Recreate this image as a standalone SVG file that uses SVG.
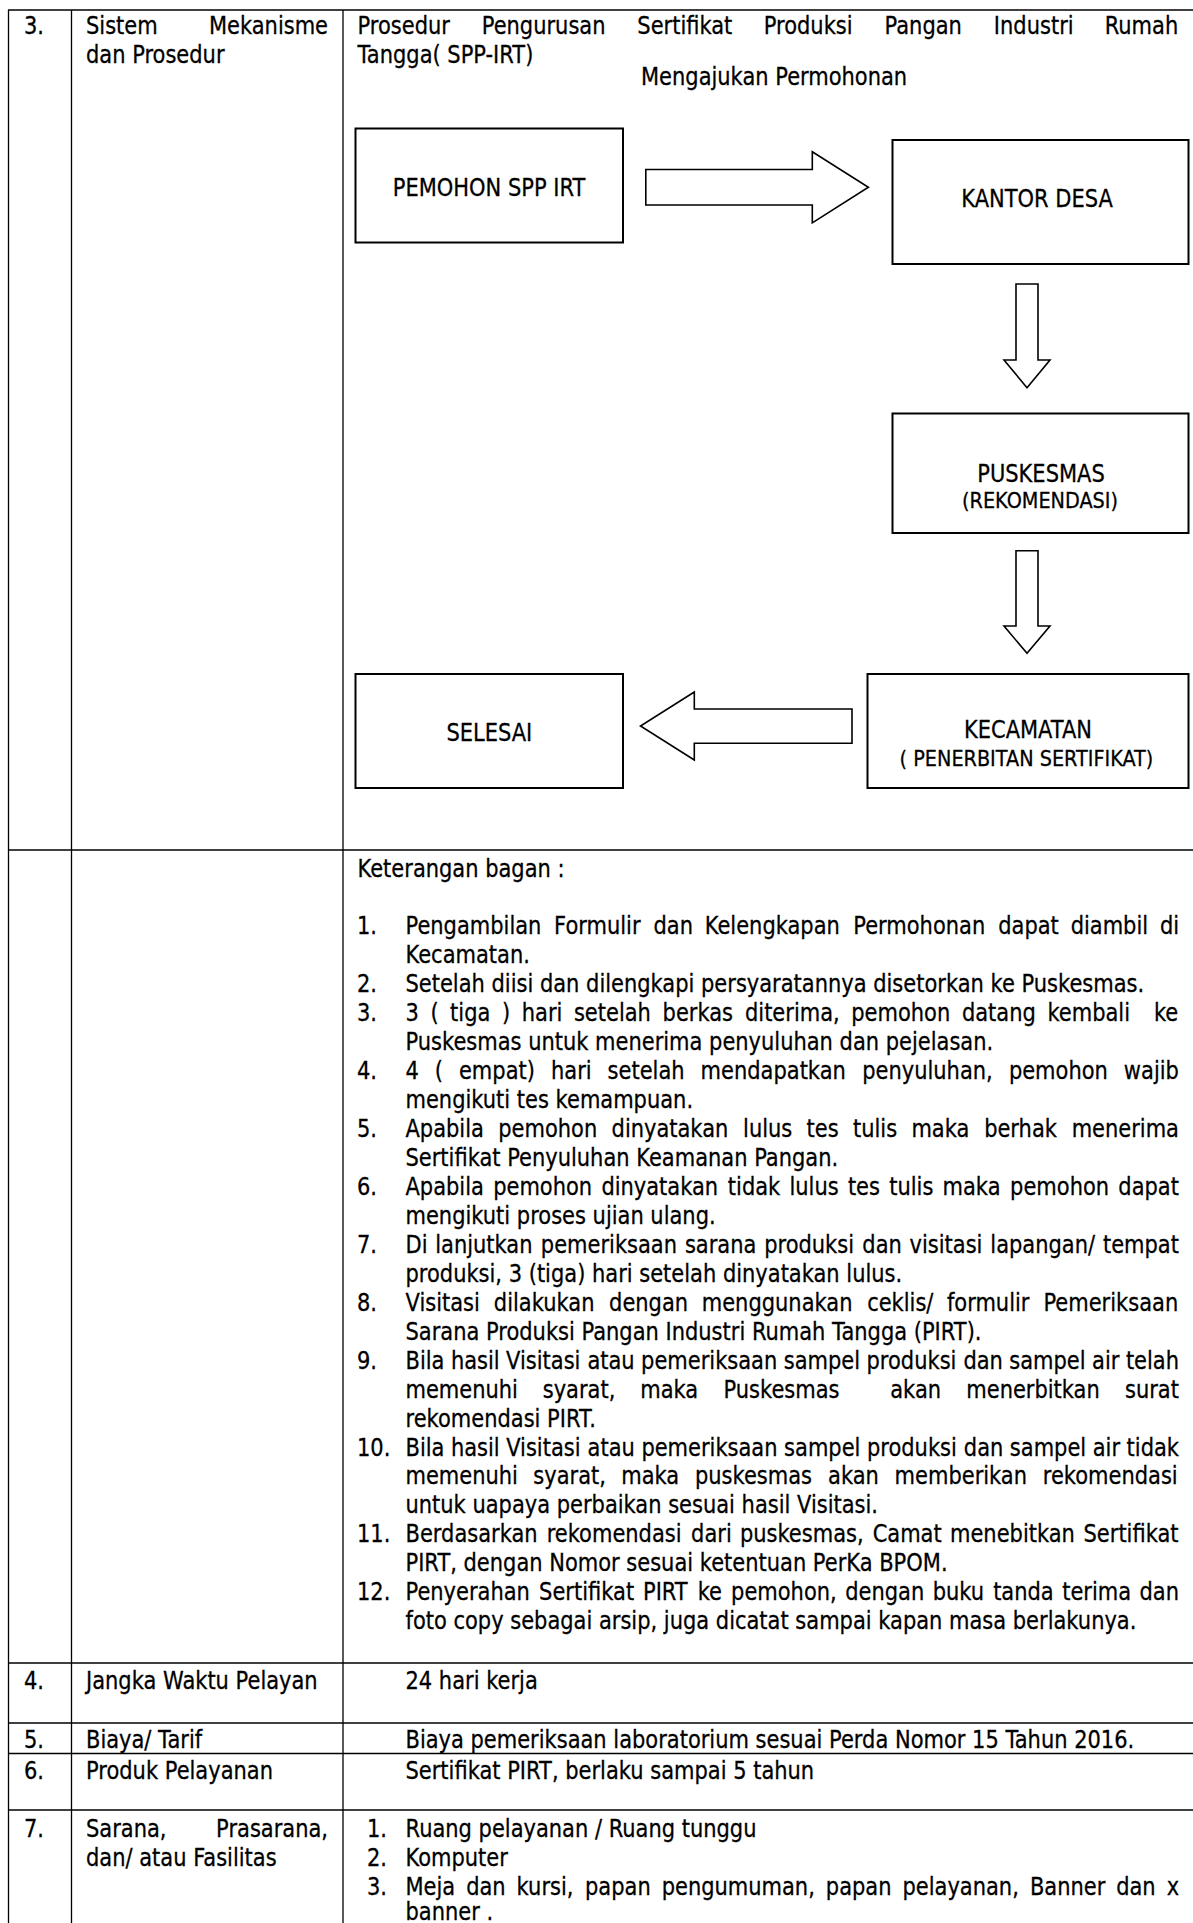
<svg xmlns="http://www.w3.org/2000/svg" width="1193" height="1923" viewBox="0 0 1193 1923">
<style>
.t{font-family:'DejaVu Sans','Liberation Sans',sans-serif;font-size:24px;fill:#000;stroke:#000;stroke-width:0.3px}
.s{font-size:22px}
.m{text-anchor:middle}
.e{text-anchor:end}
.ln{stroke:#000;stroke-width:1.3;fill:none}
.box{fill:#fff;stroke:#000;stroke-width:2}
.arr{fill:#fff;stroke:#000;stroke-width:1.6;stroke-linejoin:miter}
</style>
<rect width="1193" height="1923" fill="#fff"/>
<g id="table-lines">
<line class="ln" x1="8.5" y1="10" x2="8.5" y2="1923"/>
<line class="ln" x1="71.5" y1="10" x2="71.5" y2="1923"/>
<line class="ln" x1="343" y1="10" x2="343" y2="1923"/>
<line class="ln" x1="8" y1="10" x2="1193" y2="10"/>
<line class="ln" x1="8" y1="850" x2="1193" y2="850"/>
<line class="ln" x1="8" y1="1663" x2="1193" y2="1663"/>
<line class="ln" x1="8" y1="1723" x2="1193" y2="1723"/>
<line class="ln" x1="8" y1="1753.5" x2="1193" y2="1753.5"/>
<line class="ln" x1="8" y1="1810" x2="1193" y2="1810"/>
</g>
<g id="row3-head">
<text class="t" transform="matrix(.875 0 0 1 24 34)">3.</text>
<text class="t" transform="matrix(.875 0 0 1 86 34)">Sistem</text>
<text class="t e" transform="matrix(.875 0 0 1 328 34)">Mekanisme</text>
<text class="t" transform="matrix(.875 0 0 1 86 63)">dan Prosedur</text>
<text class="t" transform="matrix(.875 0 0 1 357.5 34)"><tspan x="0">Prosedur</tspan><tspan x="142">Pengurusan</tspan><tspan x="319.8">Sertifikat</tspan><tspan x="464.3">Produksi</tspan><tspan x="602.3">Pangan</tspan><tspan x="727.3">Industri</tspan><tspan x="853.9">Rumah</tspan></text>
<text class="t" transform="matrix(.875 0 0 1 357.5 63)">Tangga( SPP-IRT)</text>
<text class="t" transform="matrix(.875 0 0 1 641 85)">Mengajukan Permohonan</text>
</g>
<g id="connectors">
<polygon class="arr" points="645.8,169.5 812.3,169.5 812.3,151.7 868.4,187.3 812.3,222.9 812.3,205 645.8,205"/>
<polygon class="arr" points="1016,284 1038,284 1038,360 1050,360 1027,387.7 1004,360 1016,360"/>
<polygon class="arr" points="1016,550.7 1038,550.7 1038,626 1050,626 1027,653.3 1004,626 1016,626"/>
<polygon class="arr" points="852,709 694.3,709 694.3,692 640.5,726 694.3,760 694.3,743.3 852,743.3"/>
</g>
<g id="node-pemohon">
<rect class="box" x="355.5" y="128.5" width="267.5" height="114"/>
<text class="t m" transform="matrix(.875 0 0 1 489 196)">PEMOHON SPP IRT</text>
</g>
<g id="node-kantor-desa">
<rect class="box" x="892.5" y="140" width="296" height="124"/>
<text class="t m" transform="matrix(.875 0 0 1 1037 207)">KANTOR DESA</text>
</g>
<g id="node-puskesmas">
<rect class="box" x="892.5" y="413.5" width="296" height="119.5"/>
<text class="t m" transform="matrix(.875 0 0 1 1041 481.5)">PUSKESMAS</text>
<text class="t s m" transform="matrix(.875 0 0 1 1040 508)">(REKOMENDASI)</text>
</g>
<g id="node-kecamatan">
<rect class="box" x="867.5" y="674" width="321" height="114"/>
<text class="t m" transform="matrix(.875 0 0 1 1028 738)">KECAMATAN</text>
<text class="t s m" transform="matrix(.875 0 0 1 1026.5 766)">( PENERBITAN SERTIFIKAT)</text>
</g>
<g id="node-selesai">
<rect class="box" x="355.5" y="674" width="267.5" height="114"/>
<text class="t m" transform="matrix(.875 0 0 1 489.3 741)">SELESAI</text>
</g>
<g id="keterangan">
<text class="t" transform="matrix(.875 0 0 1 357.5 877)">Keterangan bagan :</text>
<text class="t" transform="matrix(.875 0 0 1 357 934)">1.</text>
<text class="t" transform="matrix(.875 0 0 1 405.5 934)"><tspan x="0">Pengambilan</tspan><tspan x="169.8">Formulir</tspan><tspan x="283.4">dan</tspan><tspan x="342">Kelengkapan</tspan><tspan x="511.7">Permohonan</tspan><tspan x="677.4">dapat</tspan><tspan x="760.2">diambil</tspan><tspan x="862.2">di</tspan></text>
<text class="t" transform="matrix(.875 0 0 1 405.5 963)">Kecamatan.</text>
<text class="t" transform="matrix(.875 0 0 1 357 991.9)">2.</text>
<text class="t" transform="matrix(.875 0 0 1 405.5 991.9)">Setelah diisi dan dilengkapi persyaratannya disetorkan ke Puskesmas.</text>
<text class="t" transform="matrix(.875 0 0 1 357 1020.9)">3.</text>
<text class="t" transform="matrix(.875 0 0 1 405.5 1020.9)"><tspan x="0">3</tspan><tspan x="28.5">(</tspan><tspan x="51">tiga</tspan><tspan x="110.3">)</tspan><tspan x="132.9">hari</tspan><tspan x="192.5">setelah</tspan><tspan x="293.8">berkas</tspan><tspan x="388">diterima,</tspan><tspan x="509.5">pemohon</tspan><tspan x="635.9">datang</tspan><tspan x="733.6">kembali</tspan><tspan x="855.4">ke</tspan></text>
<text class="t" transform="matrix(.875 0 0 1 405.5 1049.9)">Puskesmas untuk menerima penyuluhan dan pejelasan.</text>
<text class="t" transform="matrix(.875 0 0 1 357 1078.9)">4.</text>
<text class="t" transform="matrix(.875 0 0 1 405.5 1078.9)"><tspan x="0">4</tspan><tspan x="33.5">(</tspan><tspan x="61.1">empat)</tspan><tspan x="166.3">hari</tspan><tspan x="231">setelah</tspan><tspan x="337.3">mendapatkan</tspan><tspan x="522">penyuluhan,</tspan><tspan x="689.6">pemohon</tspan><tspan x="821">wajib</tspan></text>
<text class="t" transform="matrix(.875 0 0 1 405.5 1107.8)">mengikuti tes kemampuan.</text>
<text class="t" transform="matrix(.875 0 0 1 357 1136.8)">5.</text>
<text class="t" transform="matrix(.875 0 0 1 405.5 1136.8)"><tspan x="0">Apabila</tspan><tspan x="106">pemohon</tspan><tspan x="235.5">dinyatakan</tspan><tspan x="385.8">lulus</tspan><tspan x="458.4">tes</tspan><tspan x="511.4">tulis</tspan><tspan x="578.2">maka</tspan><tspan x="661.3">berhak</tspan><tspan x="761.3">menerima</tspan></text>
<text class="t" transform="matrix(.875 0 0 1 405.5 1165.8)">Sertifikat Penyuluhan Keamanan Pangan.</text>
<text class="t" transform="matrix(.875 0 0 1 357 1194.7)">6.</text>
<text class="t" transform="matrix(.875 0 0 1 405.5 1194.7)"><tspan x="0">Apabila</tspan><tspan x="100.2">pemohon</tspan><tspan x="223.9">dinyatakan</tspan><tspan x="368.4">tidak</tspan><tspan x="438.8">lulus</tspan><tspan x="505.6">tes</tspan><tspan x="552.8">tulis</tspan><tspan x="613.8">maka</tspan><tspan x="691">pemohon</tspan><tspan x="814.7">dapat</tspan></text>
<text class="t" transform="matrix(.875 0 0 1 405.5 1223.7)">mengikuti proses ujian ulang.</text>
<text class="t" transform="matrix(.875 0 0 1 357 1252.7)">7.</text>
<text class="t" transform="matrix(.875 0 0 1 405.5 1252.7)"><tspan x="0">Di</tspan><tspan x="34">lanjutkan</tspan><tspan x="154.7">pemeriksaan</tspan><tspan x="319.3">sarana</tspan><tspan x="409.9">produksi</tspan><tspan x="522.1">dan</tspan><tspan x="576.1">visitasi</tspan><tspan x="668.4">lapangan/</tspan><tspan x="797.1">tempat</tspan></text>
<text class="t" transform="matrix(.875 0 0 1 405.5 1281.6)">produksi, 3 (tiga) hari setelah dinyatakan lulus.</text>
<text class="t" transform="matrix(.875 0 0 1 357 1310.6)">8.</text>
<text class="t" transform="matrix(.875 0 0 1 405.5 1310.6)"><tspan x="0">Visitasi</tspan><tspan x="101">dilakukan</tspan><tspan x="232.7">dengan</tspan><tspan x="338.6">menggunakan</tspan><tspan x="527.6">ceklis/</tspan><tspan x="618.8">formulir</tspan><tspan x="729.1">Pemeriksaan</tspan></text>
<text class="t" transform="matrix(.875 0 0 1 405.5 1339.6)">Sarana Produksi Pangan Industri Rumah Tangga (PIRT).</text>
<text class="t" transform="matrix(.875 0 0 1 357 1368.6)">9.</text>
<text class="t" transform="matrix(.875 0 0 1 405.5 1368.6)"><tspan x="0">Bila</tspan><tspan x="51.9">hasil</tspan><tspan x="115">Visitasi</tspan><tspan x="207.9">atau</tspan><tspan x="269.3">pemeriksaan</tspan><tspan x="432.3">sampel</tspan><tspan x="526.9">produksi</tspan><tspan x="637.6">dan</tspan><tspan x="690.1">sampel</tspan><tspan x="784.7">air</tspan><tspan x="823.3">telah</tspan></text>
<text class="t" transform="matrix(.875 0 0 1 405.5 1397.5)"><tspan x="0">memenuhi</tspan><tspan x="156.9">syarat,</tspan><tspan x="268.3">maka</tspan><tspan x="363.4">Puskesmas</tspan><tspan x="554">akan</tspan><tspan x="640.9">menerbitkan</tspan><tspan x="822.3">surat</tspan></text>
<text class="t" transform="matrix(.875 0 0 1 405.5 1426.5)">rekomendasi PIRT.</text>
<text class="t" transform="matrix(.875 0 0 1 357 1455.5)">10.</text>
<text class="t" transform="matrix(.875 0 0 1 405.5 1455.5)"><tspan x="0">Bila</tspan><tspan x="51.9">hasil</tspan><tspan x="115.1">Visitasi</tspan><tspan x="208.1">atau</tspan><tspan x="269.6">pemeriksaan</tspan><tspan x="432.7">sampel</tspan><tspan x="527.4">produksi</tspan><tspan x="638.1">dan</tspan><tspan x="690.7">sampel</tspan><tspan x="785.4">air</tspan><tspan x="824.1">tidak</tspan></text>
<text class="t" transform="matrix(.875 0 0 1 405.5 1484.4)"><tspan x="0">memenuhi</tspan><tspan x="146.1">syarat,</tspan><tspan x="246.6">maka</tspan><tspan x="330.8">puskesmas</tspan><tspan x="483">akan</tspan><tspan x="559">memberikan</tspan><tspan x="728.3">rekomendasi</tspan></text>
<text class="t" transform="matrix(.875 0 0 1 405.5 1513.4)">untuk uapaya perbaikan sesuai hasil Visitasi.</text>
<text class="t" transform="matrix(.875 0 0 1 357 1542.4)">11.</text>
<text class="t" transform="matrix(.875 0 0 1 405.5 1542.4)"><tspan x="0">Berdasarkan</tspan><tspan x="161.3">rekomendasi</tspan><tspan x="326.4">dari</tspan><tspan x="382.2">puskesmas,</tspan><tspan x="533.9">Camat</tspan><tspan x="622.3">menebitkan</tspan><tspan x="774.9">Sertifikat</tspan></text>
<text class="t" transform="matrix(.875 0 0 1 405.5 1571.3)">PIRT, dengan Nomor sesuai ketentuan PerKa BPOM.</text>
<text class="t" transform="matrix(.875 0 0 1 357 1600.3)">12.</text>
<text class="t" transform="matrix(.875 0 0 1 405.5 1600.3)"><tspan x="0">Penyerahan</tspan><tspan x="152.7">Sertifikat</tspan><tspan x="271.4">PIRT</tspan><tspan x="333.9">ke</tspan><tspan x="372.1">pemohon,</tspan><tspan x="502.5">dengan</tspan><tspan x="602.5">buku</tspan><tspan x="671.6">tanda</tspan><tspan x="750.5">terima</tspan><tspan x="838.9">dan</tspan></text>
<text class="t" transform="matrix(.875 0 0 1 405.5 1629.3)">foto copy sebagai arsip, juga dicatat sampai kapan masa berlakunya.</text>
</g>
<g id="row4">
<text class="t" transform="matrix(.875 0 0 1 24 1689)">4.</text>
<text class="t" transform="matrix(.875 0 0 1 86 1689)">Jangka Waktu Pelayan</text>
<text class="t" transform="matrix(.875 0 0 1 405.5 1689)">24 hari kerja</text>
</g>
<g id="row5">
<text class="t" transform="matrix(.875 0 0 1 24 1748)">5.</text>
<text class="t" transform="matrix(.875 0 0 1 86 1748)">Biaya/ Tarif</text>
<text class="t" transform="matrix(.875 0 0 1 405.5 1748)">Biaya pemeriksaan laboratorium sesuai Perda Nomor 15 Tahun 2016.</text>
</g>
<g id="row6">
<text class="t" transform="matrix(.875 0 0 1 24 1779)">6.</text>
<text class="t" transform="matrix(.875 0 0 1 86 1779)">Produk Pelayanan</text>
<text class="t" transform="matrix(.875 0 0 1 405.5 1779)">Sertifikat PIRT, berlaku sampai 5 tahun</text>
</g>
<g id="row7">
<text class="t" transform="matrix(.875 0 0 1 24 1837)">7.</text>
<text class="t" transform="matrix(.875 0 0 1 86 1837)">Sarana,</text>
<text class="t e" transform="matrix(.875 0 0 1 328 1837)">Prasarana,</text>
<text class="t" transform="matrix(.875 0 0 1 86 1866)">dan/ atau Fasilitas</text>
<text class="t" transform="matrix(.875 0 0 1 367 1837)">1.</text>
<text class="t" transform="matrix(.875 0 0 1 405.5 1837)">Ruang pelayanan / Ruang tunggu</text>
<text class="t" transform="matrix(.875 0 0 1 367 1866)">2.</text>
<text class="t" transform="matrix(.875 0 0 1 405.5 1866)">Komputer</text>
<text class="t" transform="matrix(.875 0 0 1 367 1895)">3.</text>
<text class="t" transform="matrix(.875 0 0 1 405.5 1895)"><tspan x="0">Meja</tspan><tspan x="69.3">dan</tspan><tspan x="127">kursi,</tspan><tspan x="205.2">papan</tspan><tspan x="292.8">pengumuman,</tspan><tspan x="480.4">papan</tspan><tspan x="568">pelayanan,</tspan><tspan x="713.6">Banner</tspan><tspan x="812.2">dan</tspan><tspan x="869.9">x</tspan></text>
<text class="t" transform="matrix(.875 0 0 1 405.5 1920)">banner .</text>
</g>
</svg>
